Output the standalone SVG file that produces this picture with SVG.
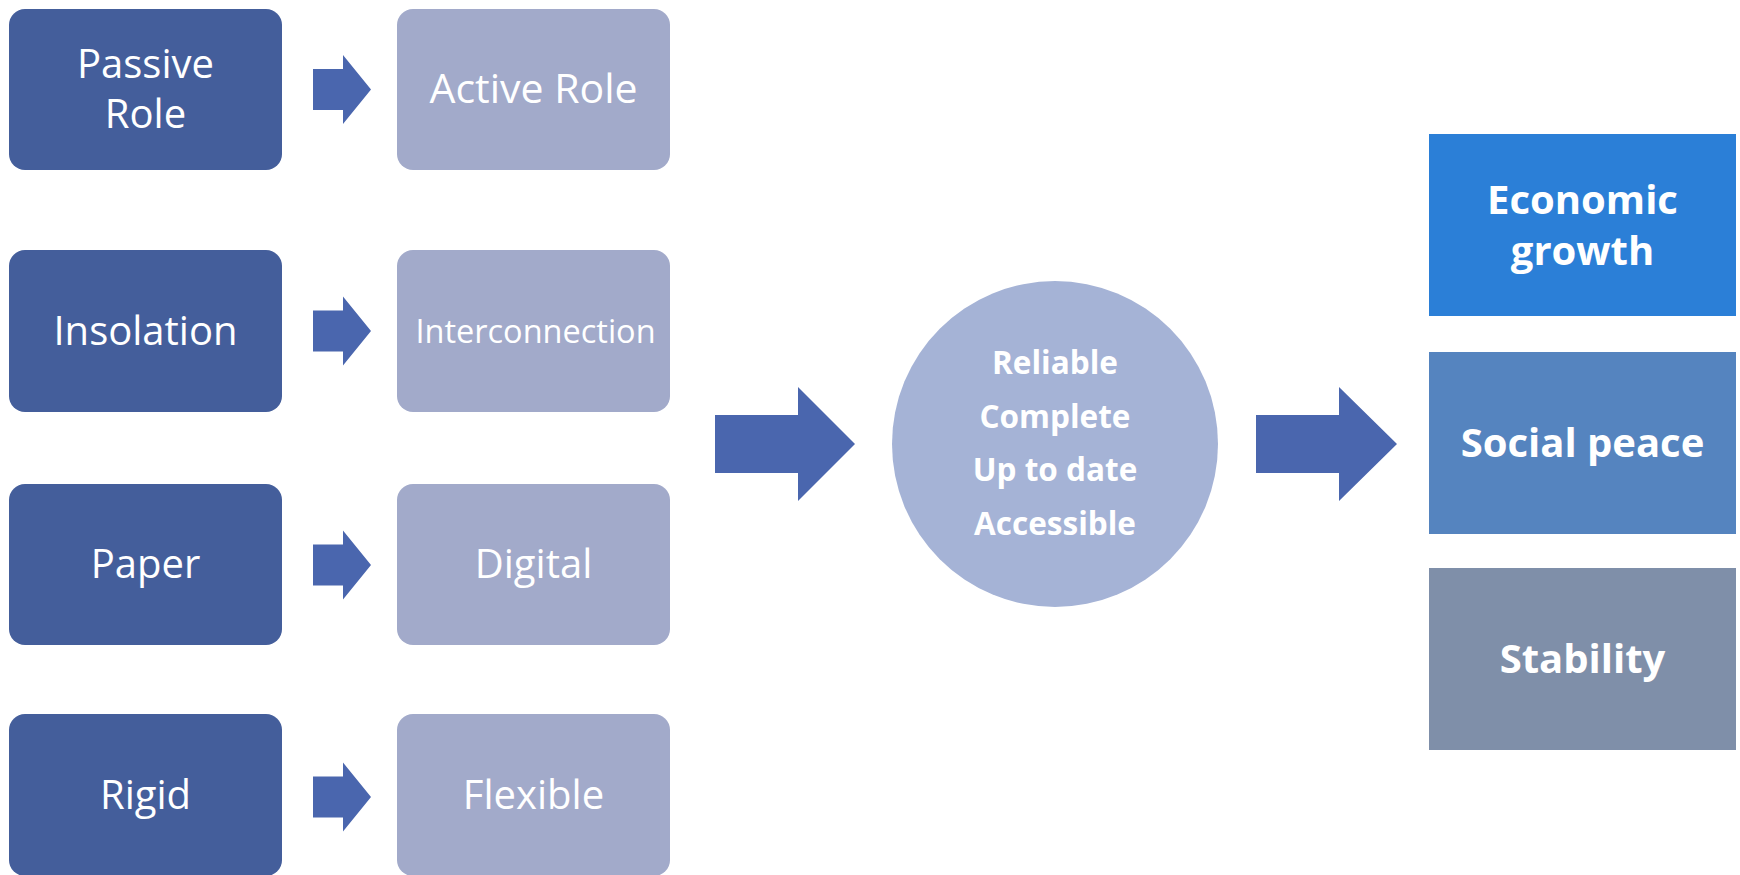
<svg xmlns="http://www.w3.org/2000/svg" width="1740" height="875" viewBox="0 0 1740 875">
<style>
.dark{fill:#445E9B}
.light{fill:#A2AACA}
.arr{fill:#4A66AE}
.t{font-family:"Open Sans","Liberation Sans",sans-serif;fill:#fff;text-anchor:middle}
.l{font-size:40px}
.b{font-weight:bold;font-size:40px}
.c{font-weight:bold;font-size:31.5px}
</style>
<rect width="1740" height="875" fill="#fff"/>
<g id="passive"><rect class="dark" x="9" y="9" width="273" height="161" rx="16"/><text class="t l" x="145.5" y="78">Passive</text><text class="t l" x="145.5" y="128">Role</text></g>
<g id="active"><rect class="light" x="397" y="9" width="273" height="161" rx="16"/><text class="t l" x="533.5" y="103" style="font-size:41px">Active Role</text></g>
<g id="insolation"><rect class="dark" x="9" y="250" width="273" height="162" rx="16"/><text class="t l" x="145.5" y="345">Insolation</text></g>
<g id="interconnection"><rect class="light" x="397" y="250" width="273" height="162" rx="16"/><text class="t" x="535.5" y="343" style="font-size:32.5px">Interconnection</text></g>
<g id="paper"><rect class="dark" x="9" y="484" width="273" height="161" rx="16"/><text class="t l" x="145.5" y="578">Paper</text></g>
<g id="digital"><rect class="light" x="397" y="484" width="273" height="161" rx="16"/><text class="t l" x="533.5" y="578">Digital</text></g>
<g id="rigid"><rect class="dark" x="9" y="714" width="273" height="162" rx="16"/><text class="t l" x="145.5" y="809">Rigid</text></g>
<g id="flexible"><rect class="light" x="397" y="714" width="273" height="162" rx="16"/><text class="t l" x="533.5" y="809">Flexible</text></g>
<g id="quality"><circle cx="1055" cy="444" r="163" fill="#A5B3D6"/>
<text class="t c" x="1055" y="374">Reliable</text>
<text class="t c" x="1055" y="428">Complete</text>
<text class="t c" x="1055" y="481">Up to date</text>
<text class="t c" x="1055" y="535">Accessible</text></g>
<g id="economic"><rect x="1429" y="134" width="307" height="182" fill="#2B7FD7"/><text class="t b" x="1582.5" y="214">Economic</text><text class="t b" x="1582.5" y="265">growth</text></g>
<g id="social"><rect x="1429" y="352" width="307" height="182" fill="#5584BF"/><text class="t b" x="1582.5" y="457">Social peace</text></g>
<g id="stability"><rect x="1429" y="568" width="307" height="182" fill="#7F8FA9"/><text class="t b" x="1582.5" y="673">Stability</text></g>
<g id="connectors">
<polygon class="arr" points="313,69 343,69 343,55 371,89.5 343,124 343,110 313,110"/>
<polygon class="arr" points="313,310.5 343,310.5 343,296.5 371,331 343,365.5 343,351.5 313,351.5"/>
<polygon class="arr" points="313,544.5 343,544.5 343,530.5 371,565 343,599.5 343,585.5 313,585.5"/>
<polygon class="arr" points="313,776.5 343,776.5 343,762.5 371,797 343,831.5 343,817.5 313,817.5"/>
<polygon class="arr" points="715,415 798,415 798,387 855,444 798,501 798,473 715,473"/>
<polygon class="arr" points="1256,415 1339,415 1339,387 1397,444 1339,501 1339,473 1256,473"/>
</g>
</svg>
